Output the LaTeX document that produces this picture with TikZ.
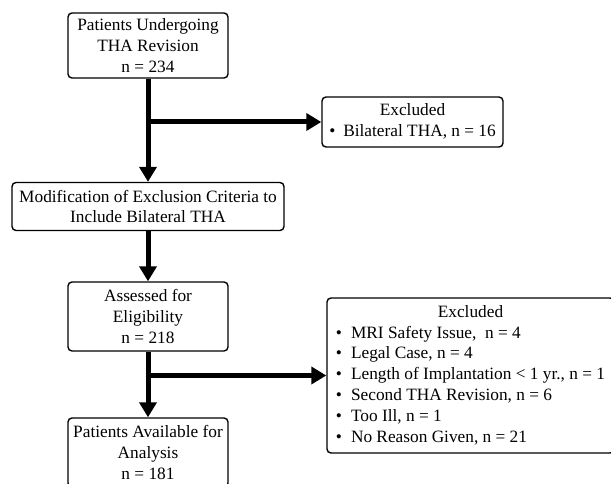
\documentclass[tikz,border=0pt]{standalone}
\usepackage{fontspec}
\setmainfont{Liberation Serif}
\usetikzlibrary{arrows.meta}
\begin{document}
\begin{tikzpicture}[x=1pt,y=-1pt,
  box/.style={draw, line width=1.4pt, rounded corners=4pt, align=center, inner sep=0pt,
    font=\fontsize{17.3}{20.8}\selectfont},
  flow/.style={line width=5pt, -{Triangle[width=17pt,length=15pt]}}]
\useasboundingbox (0,0) rectangle (611,484);
\clip (0,0) rectangle (611,484);
\node[box, minimum width=160pt, minimum height=65pt] (b1) at (148,45.5)
  {Patients Undergoing\\THA Revision\\n = 234};
\node[box, minimum width=272pt, minimum height=48pt] (b2) at (148,206.5)
  {Modification of Exclusion Criteria to\\Include Bilateral THA};
\node[box, minimum width=160pt, minimum height=69pt] (b3) at (148,316.5)
  {Assessed for\\Eligibility\\n = 218};
\node[box, minimum width=160pt, minimum height=69pt] (b4) at (148,452.5)
  {Patients Available for\\Analysis\\n = 181};
\node[box, minimum width=181pt, minimum height=50pt] (e1) at (412.5,122)
  {\begin{tabular}{@{}l@{}}\multicolumn{1}{c}{Excluded}\\
   \textbullet\hspace{8pt}Bilateral THA, n = 16\end{tabular}};
\node[box, minimum width=287pt, minimum height=155pt] (e2) at (470.5,375.5)
  {\begin{tabular}{@{}l@{}}\multicolumn{1}{c}{Excluded}\\
   \textbullet\hspace{9pt}MRI Safety Issue,~ n = 4\\
   \textbullet\hspace{9pt}Legal Case, n = 4\\
   \textbullet\hspace{9pt}Length of Implantation < 1 yr., n = 1\\
   \textbullet\hspace{9pt}Second THA Revision, n = 6\\
   \textbullet\hspace{9pt}Too Ill, n = 1\\
   \textbullet\hspace{9pt}No Reason Given, n = 21\end{tabular}};
\coordinate (j1) at (b1.south |- e1.west);
\coordinate (j2) at (b3.south |- e2.west);
\draw[flow] (b1.south) -- (b2.north);
\draw[flow] (j1) -- (e1.west);
\draw[flow] (b2.south) -- (b3.north);
\draw[flow] (b3.south) -- (b4.north);
\draw[flow] (j2) -- (e2.west);
\end{tikzpicture}
\end{document}
